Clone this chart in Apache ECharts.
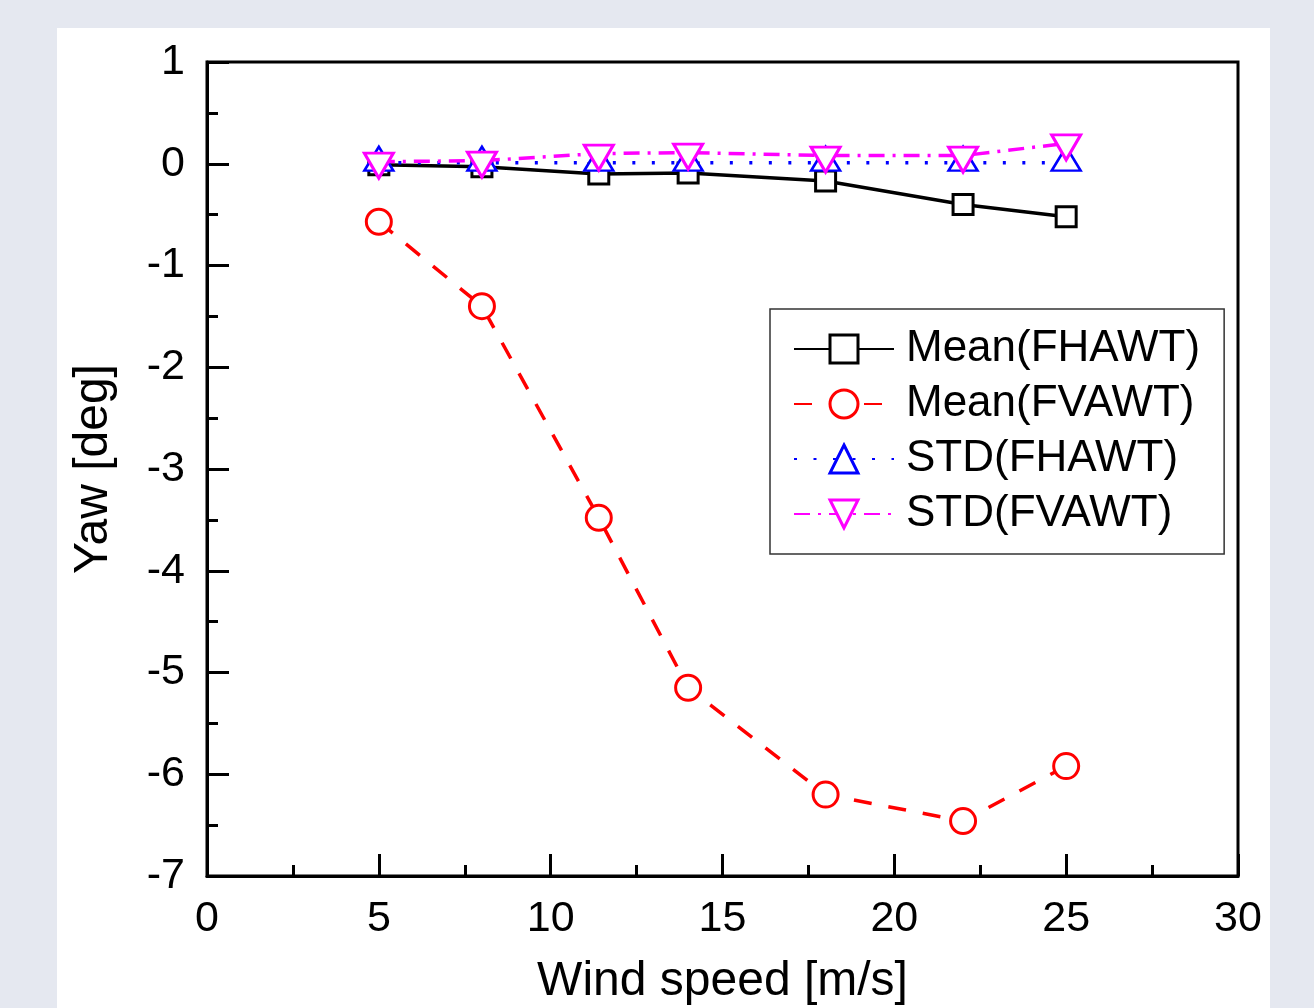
<!DOCTYPE html>
<html>
<head>
<meta charset="utf-8">
<script src="https://cdn.jsdelivr.net/npm/echarts@6/dist/echarts.min.js"></script>
<style>
html,body{margin:0;padding:0;background:#e5e8f0;}
#chart{width:1314px;height:1008px;}
</style>
</head>
<body>
<div id="chart"></div>
<script>
// Wind speed [m/s]
const windSpeed = [5, 8, 11.4, 14, 18, 22, 25];
// Yaw [deg]
const meanFHAWT = [-0.01, -0.03, -0.10, -0.09, -0.17, -0.40, -0.52];
const meanFVAWT = [-0.57, -1.40, -3.48, -5.15, -6.20, -6.46, -5.92];
const stdFHAWT  = [0.01, 0.01, 0.01, 0.01, 0.01, 0.01, 0.01];
const stdFVAWT  = [0.02, 0.03, 0.10, 0.11, 0.08, 0.08, 0.20];
const seriesNames = ['Mean(FHAWT)', 'Mean(FVAWT)', 'STD(FHAWT)', 'STD(FVAWT)'];
const xTicks = [0, 5, 10, 15, 20, 25, 30];
const yTicks = [1, 0, -1, -2, -3, -4, -5, -6, -7];

const pairs = (ys) => windSpeed.map((x, i) => [x, ys[i]]);
const FONT = '"Liberation Sans", Arial, sans-serif';

const chart = echarts.init(document.getElementById('chart'), null, {renderer: 'canvas'});
chart.setOption({
  backgroundColor: '#e5e8f0',
  animation: false,
  textStyle: {fontFamily: FONT, color: '#000'},
  graphic: [{
    type: 'rect', z: -10, silent: true,
    shape: {x: 57, y: 28, width: 1213, height: 990},
    style: {fill: '#ffffff'}
  }],
  grid: {
    left: 207, right: 76, top: 62, bottom: 132,
    outerBoundsMode: 'none', containLabel: false,
    show: true, borderColor: '#000', borderWidth: 3, backgroundColor: 'transparent'
  },
  xAxis: {
    type: 'value', min: xTicks[0], max: xTicks[xTicks.length - 1], interval: 5,
    name: 'Wind speed [m/s]', nameLocation: 'middle', nameGap: 82,
    nameTextStyle: {fontSize: 48, fontFamily: FONT, color: '#000'},
    axisLine: {show: true, onZero: false, lineStyle: {color: '#000', width: 3}},
    axisTick: {show: true, inside: true, length: 22, lineStyle: {color: '#000', width: 3}},
    minorTick: {show: true, splitNumber: 2, length: 11, lineStyle: {color: '#000', width: 3}},
    splitLine: {show: false},
    axisLabel: {fontSize: 43, color: '#000', margin: 22, fontFamily: FONT}
  },
  yAxis: {
    type: 'value', min: yTicks[yTicks.length - 1], max: yTicks[0], interval: 1,
    name: 'Yaw [deg]', nameLocation: 'middle', nameGap: 89,
    nameTextStyle: {fontSize: 48, fontFamily: FONT, color: '#000'},
    axisLine: {show: true, onZero: false, lineStyle: {color: '#000', width: 3}},
    axisTick: {show: true, inside: true, length: 22, lineStyle: {color: '#000', width: 3}},
    minorTick: {show: true, splitNumber: 2, length: 11, lineStyle: {color: '#000', width: 3}},
    splitLine: {show: false},
    axisLabel: {fontSize: 43, color: '#000', margin: 22, fontFamily: FONT}
  },
  legend: {
    show: true, orient: 'vertical', left: 770, top: 309,
    padding: [18, 24, 18, 23], itemGap: 11,
    itemWidth: 100, itemHeight: 35,
    borderColor: '#333', borderWidth: 1.5, backgroundColor: '#fff',
    data: seriesNames,
    itemStyle: {borderWidth: 3},
    textStyle: {fontSize: 44, color: '#000', fontFamily: FONT, lineHeight: 44, padding: [0, 0, 0, 7]}
  },
  series: [
    {
      name: seriesNames[0], type: 'line', z: 2, data: pairs(meanFHAWT),
      symbol: 'rect', symbolSize: 20,
      itemStyle: {color: '#fff', borderColor: '#000', borderWidth: 3},
      lineStyle: {color: '#000', width: 3.5, type: 'solid'}
    },
    {
      name: seriesNames[1], type: 'line', z: 3, data: pairs(meanFVAWT), smooth: false,
      symbol: 'circle', symbolSize: 25,
      itemStyle: {color: '#fff', borderColor: '#ff0000', borderWidth: 3},
      lineStyle: {color: '#ff0000', width: 3.5, type: [18, 17]}
    },
    {
      name: seriesNames[2], type: 'line', z: 4, data: pairs(stdFHAWT),
      symbol: 'triangle', symbolSize: [29, 24], symbolOffset: [0, -4],
      itemStyle: {color: '#fff', borderColor: '#0000ff', borderWidth: 2.5},
      lineStyle: {color: '#0000ff', width: 3.5, type: [3, 16.5]}
    },
    {
      name: seriesNames[3], type: 'line', z: 5, data: pairs(stdFVAWT),
      symbol: 'triangle', symbolRotate: 180, symbolSize: [29, 25], symbolOffset: [0, 4],
      itemStyle: {color: '#fff', borderColor: '#ff00ff', borderWidth: 3},
      lineStyle: {color: '#ff00ff', width: 3.5, type: [16, 8, 3, 8]}
    }
  ]
});
</script>
</body>
</html>
